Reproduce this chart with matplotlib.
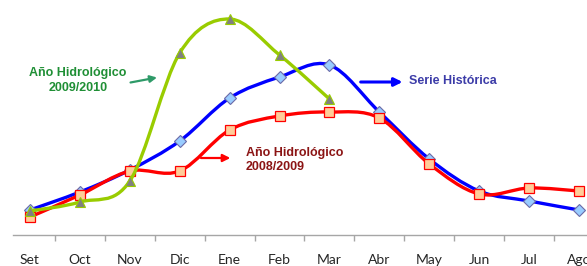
import numpy as np
import matplotlib
matplotlib.use("Agg")
import matplotlib.pyplot as plt
from matplotlib.path import Path
from matplotlib.patches import PathPatch

# ---------------------------- datos ----------------------------
meses = ['Set', 'Oct', 'Nov', 'Dic', 'Ene', 'Feb', 'Mar', 'Abr', 'May', 'Jun', 'Jul', 'Ago']
serie_historica = [25, 43, 65, 94, 137, 158, 170, 123, 76, 44, 34, 25]
hidro_2008_2009 = [18, 40, 64, 64, 105, 119, 123, 117, 71, 41, 47, 44]
hidro_2009_2010 = [24, 33, 54, 182, 216, 180, 136]   # solo hasta Mar


def curva_suave(ax, x, y, color, lw, z):
    """Linea suavizada tipo Excel: Bezier cubico (Catmull-Rom) entre los puntos."""
    p = np.column_stack([x, y]).astype(float)
    n = len(p)
    verts = [p[0]]
    codes = [Path.MOVETO]
    for i in range(n - 1):
        p0 = p[i - 1] if i > 0 else p[i]
        p3 = p[i + 2] if i + 2 < n else p[i + 1]
        c1 = p[i] + (p[i + 1] - p0) / 6.0
        c2 = p[i + 1] - (p3 - p[i]) / 6.0
        verts += [c1, c2, p[i + 1]]
        codes += [Path.CURVE4] * 3
    ax.add_patch(PathPatch(Path(verts, codes), fill=False, edgecolor=color,
                           lw=lw, zorder=z, capstyle='round', joinstyle='round'))


fig = plt.figure(figsize=(5.87, 2.66), dpi=100)
ax = fig.add_axes([13 / 587, 31 / 266, 574 / 587, 235 / 266])

x = np.arange(len(meses))

# Serie historica (azul)
curva_suave(ax, x, serie_historica, '#0000ff', 2.4, 2)
ax.plot(x, serie_historica, ls='none', marker='D', ms=6.5, mfc='#99ccff',
        mec='#6a6aa8', mew=0.8, zorder=3)

# Año hidrologico 2008/2009 (rojo)
curva_suave(ax, x, hidro_2008_2009, '#ff0000', 2.4, 4)
ax.plot(x, hidro_2008_2009, ls='none', marker='s', ms=6.5, mfc='#ffcc99',
        mec='#ff0000', mew=0.9, zorder=5)

# Año hidrologico 2009/2010 (verde)
x2 = np.arange(len(hidro_2009_2010))
curva_suave(ax, x2, hidro_2009_2010, '#99cc00', 2.4, 6)
ax.plot(x2, hidro_2009_2010, ls='none', marker='^', ms=7, mfc='#808080',
        mec='#99cc00', mew=0.8, zorder=7)

# etiquetas con flechas
fuente = ['Liberation Sans', 'DejaVu Sans']
ax.text(0.96, 154.5, 'Año Hidrológico\n2009/2010', color='#1f8f35', fontsize=9,
        fontweight='bold', family=fuente, ha='center', va='center', linespacing=1.3)
ax.annotate('', xy=(2.6, 158), xytext=(1.96, 152),
            arrowprops=dict(arrowstyle='-|>', color='#2e9a68', lw=1.6, mutation_scale=10))

ax.text(7.6, 154, 'Serie Histórica', color='#3c3ca8', fontsize=9,
        fontweight='bold', family=fuente, ha='left', va='center')
ax.annotate('', xy=(7.52, 153), xytext=(6.57, 153),
            arrowprops=dict(arrowstyle='-|>', color='#0000ff', lw=2.2, mutation_scale=12))

ax.text(4.33, 75, 'Año Hidrológico\n2008/2009', color='#8b1414', fontsize=9,
        fontweight='bold', family=fuente, ha='left', va='center', linespacing=1.3)
ax.annotate('', xy=(4.07, 77), xytext=(3.37, 77),
            arrowprops=dict(arrowstyle='-|>', color='#ff0000', lw=1.6, mutation_scale=11))

# ejes: solo la linea inferior con marcas entre categorias
ax.set_xlim(-0.34, 11.16)
ax.set_ylim(0, 235)
for s in ['top', 'right', 'left']:
    ax.spines[s].set_visible(False)
ax.spines['bottom'].set_color('#a6a6a6')
ax.spines['bottom'].set_linewidth(1.0)
ax.set_yticks([])
ax.set_xticks(x)
ax.set_xticklabels(meses, fontsize=10, family=['Lato', 'DejaVu Sans'], color='#262626')
ax.tick_params(axis='x', which='major', length=0, pad=14)
ax.set_xticks(x[:-1] + 0.5, minor=True)
ax.tick_params(axis='x', which='minor', length=4, width=1, color='#a6a6a6', direction='out')

fig.savefig('out.png', dpi=100)
